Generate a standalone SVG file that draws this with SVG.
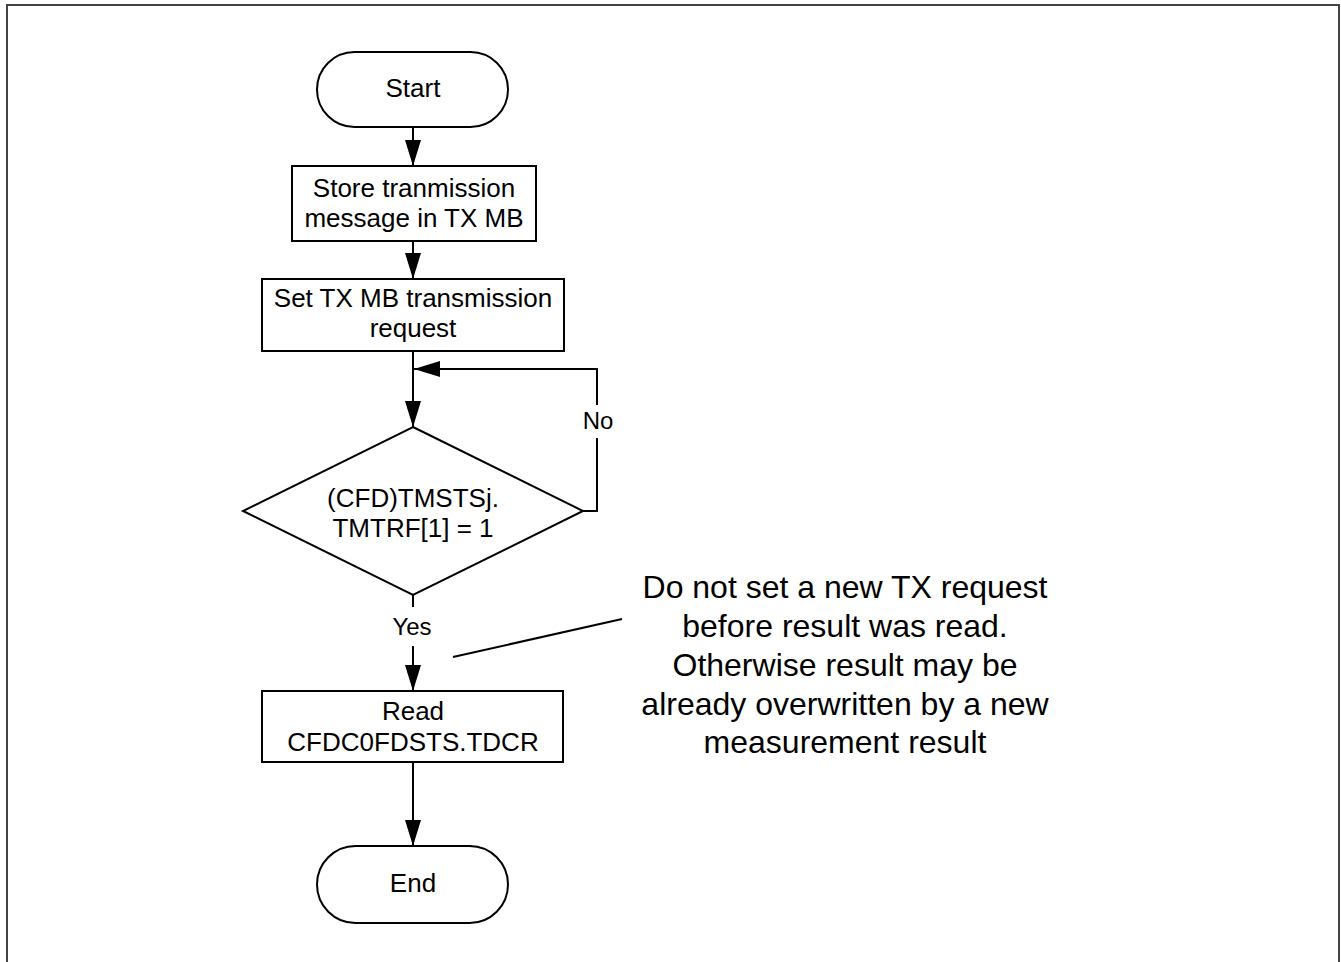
<svg xmlns="http://www.w3.org/2000/svg" width="1341" height="962" viewBox="0 0 1341 962">
<style>
.n{fill:#fff;stroke:#000;stroke-width:2}
.t{font-family:"Liberation Sans",Arial,sans-serif;font-size:26px;fill:#000;text-anchor:middle}
.l{font-family:"Liberation Sans",Arial,sans-serif;font-size:24px;fill:#000;text-anchor:middle}
.a{font-family:"Liberation Sans",Arial,sans-serif;font-size:32px;fill:#000;text-anchor:middle}
.c{fill:none;stroke:#000;stroke-width:2}
</style>
<defs>
<marker id="arr" markerUnits="userSpaceOnUse" markerWidth="27" markerHeight="17" refX="26" refY="8.5" orient="auto" viewBox="0 0 27 17">
<path d="M0,0.5 L26,8.5 L0,16.5 Z" fill="#000"/>
</marker>
</defs>
<rect x="7" y="5" width="1332" height="1000" fill="#fff" stroke="#444" stroke-width="2"/>
<g id="connectors">
<line class="c" x1="413" y1="127" x2="413" y2="166" marker-end="url(#arr)"/>
<line class="c" x1="413" y1="241" x2="413" y2="279" marker-end="url(#arr)"/>
<line class="c" x1="413" y1="351" x2="413" y2="427" marker-end="url(#arr)"/>
<path class="c" d="M583,511 H597 V438"/>
<path class="c" d="M597,405 V369 H414" marker-end="url(#arr)"/>
<line class="c" x1="413" y1="595" x2="413" y2="607"/>
<line class="c" x1="413" y1="646" x2="413" y2="691" marker-end="url(#arr)"/>
<line class="c" x1="413" y1="762" x2="413" y2="846" marker-end="url(#arr)"/>
<line class="c" x1="453" y1="657" x2="622" y2="619"/>
<text class="l" x="598" y="429">No</text>
<text class="l" x="412" y="635">Yes</text>
</g>
<g id="start">
<rect class="n" x="317" y="52" width="191" height="75" rx="37.5"/>
<text class="t" x="413" y="97">Start</text>
</g>
<g id="store">
<rect class="n" x="292" y="166" width="244" height="75"/>
<text class="t" x="414" y="197">Store tranmission</text>
<text class="t" x="414" y="227">message in TX MB</text>
</g>
<g id="setreq">
<rect class="n" x="262" y="279" width="302" height="72"/>
<text class="t" x="413" y="307">Set TX MB transmission</text>
<text class="t" x="413" y="337">request</text>
</g>
<g id="decision">
<polygon class="n" points="413,427 583,511 413,595 243,511"/>
<text class="t" x="413" y="507">(CFD)TMSTSj.</text>
<text class="t" x="413" y="537">TMTRF[1] = 1</text>
</g>
<g id="read">
<rect class="n" x="262" y="691" width="301" height="71"/>
<text class="t" x="413" y="720">Read</text>
<text class="t" x="413" y="751">CFDC0FDSTS.TDCR</text>
</g>
<g id="end">
<rect class="n" x="317" y="846" width="191" height="77" rx="38.5"/>
<text class="t" x="413" y="892">End</text>
</g>
<g id="note">
<text class="a" x="845" y="598">Do not set a new TX request</text>
<text class="a" x="845" y="637">before result was read.</text>
<text class="a" x="845" y="676">Otherwise result may be</text>
<text class="a" x="845" y="715">already overwritten by a new</text>
<text class="a" x="845" y="753">measurement result</text>
</g>
</svg>
